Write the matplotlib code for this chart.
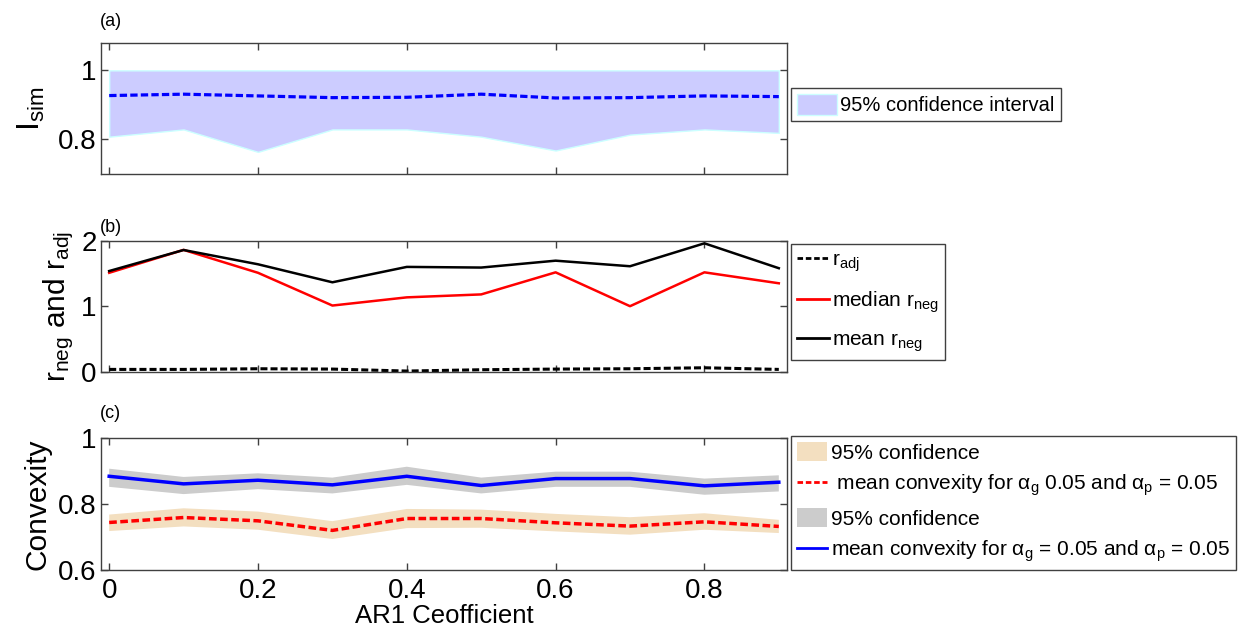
import matplotlib
matplotlib.use("Agg")
import matplotlib.pyplot as plt
from matplotlib.patches import Patch
from matplotlib.lines import Line2D

plt.rcParams['font.family'] = ['Liberation Sans', 'DejaVu Sans']
plt.rcParams['mathtext.fontset'] = 'custom'
plt.rcParams['mathtext.rm'] = 'Liberation Sans'
plt.rcParams['mathtext.it'] = 'Liberation Sans'
plt.rcParams['mathtext.default'] = 'regular'

# ---- data ----
ar1 = [0.0, 0.1, 0.2, 0.3, 0.4, 0.5, 0.6, 0.7, 0.8, 0.9]

# panel (a)
isim_mean = [0.927, 0.931, 0.926, 0.921, 0.922, 0.931, 0.920, 0.921, 0.926, 0.924]
isim_upper = [1.0, 1.0, 1.0, 1.0, 1.0, 1.0, 1.0, 1.0, 1.0, 1.0]
isim_lower = [0.808, 0.829, 0.764, 0.829, 0.829, 0.808, 0.768, 0.814, 0.829, 0.819]

# panel (b)
r_adj = [0.035, 0.035, 0.045, 0.04, 0.01, 0.03, 0.04, 0.045, 0.06, 0.035]
median_rneg = [1.51, 1.86, 1.51, 1.01, 1.135, 1.18, 1.517, 1.0, 1.517, 1.35]
mean_rneg = [1.537, 1.858, 1.64, 1.365, 1.60, 1.59, 1.695, 1.61, 1.96, 1.58]

# panel (c)
conv_red = [0.744, 0.759, 0.749, 0.720, 0.756, 0.756, 0.743, 0.733, 0.746, 0.732]
tan_upper = [0.768, 0.787, 0.777, 0.748, 0.785, 0.783, 0.770, 0.760, 0.772, 0.752]
tan_lower = [0.718, 0.732, 0.722, 0.694, 0.727, 0.728, 0.717, 0.707, 0.722, 0.712]
conv_blue = [0.884, 0.861, 0.872, 0.858, 0.884, 0.856, 0.877, 0.877, 0.855, 0.866]
gray_upper = [0.907, 0.882, 0.893, 0.880, 0.913, 0.880, 0.898, 0.898, 0.877, 0.887]
gray_lower = [0.852, 0.830, 0.845, 0.832, 0.858, 0.832, 0.852, 0.852, 0.828, 0.838]

xticks = [0, 0.2, 0.4, 0.6, 0.8]
xticklabels = ['0', '0.2', '0.4', '0.6', '0.8']

W, H = 1244, 632
fig = plt.figure(figsize=(W / 100, H / 100), dpi=100)

def ax_at(x0, y0, x1, y1):
    return fig.add_axes([x0 / W, 1 - y1 / H, (x1 - x0) / W, (y1 - y0) / H])

spine_c = '#404040'
TICK = 20
YLAB = 21.5
LEG = 14.5

def style(ax):
    for s in ax.spines.values():
        s.set_color(spine_c)
        s.set_linewidth(1.0)
    ax.tick_params(direction='in', top=True, right=True, length=5,
                   width=1.0, color=spine_c, labelsize=TICK, pad=3)
    ax.tick_params(axis='x', pad=6)
    ax.set_xlim(-0.011, 0.911)
    ax.set_xticks(xticks)

legkw = dict(loc='upper left', fontsize=LEG, frameon=True, fancybox=False,
             edgecolor='#404040', framealpha=1, borderpad=0.3,
             handletextpad=0.15, borderaxespad=0, labelspacing=0.35)

# ---- (a) ----
axa = ax_at(101, 42.7, 787, 174)
style(axa)
axa.fill_between(ar1, isim_lower, isim_upper, facecolor='#ccccff',
                 edgecolor='#ccffff', linewidth=1)
axa.plot(ar1, isim_mean, color='#0000ff', linestyle='--', linewidth=2.3,
         dashes=(2.3, 1.0))
axa.set_ylim(0.7, 1.08)
axa.set_yticks([0.8, 1.0])
axa.set_yticklabels(['0.8', '1'])
axa.set_xticklabels([])
axa.set_ylabel('I$_{sim}$', fontsize=YLAB + 1.5, labelpad=8)
fig.text(100 / W, 1 - 21 / H, '(a)', fontsize=13, va='center', ha='left')
fig.legend(handles=[Patch(facecolor='#ccccff', edgecolor='#ccffff')],
           labels=['95% confidence interval'],
           bbox_to_anchor=(791 / W, 1 - 88 / H), handlelength=2.0,
           handleheight=1.2, **legkw)

# ---- (b) ----
axb = ax_at(101, 240.7, 787, 371.7)
style(axb)
axb.plot(ar1, r_adj, color='black', linestyle='--', linewidth=2.2,
         dashes=(2.3, 1.0))
axb.plot(ar1, median_rneg, color='#ff0000', linewidth=1.8)
axb.plot(ar1, mean_rneg, color='black', linewidth=1.8)
axb.set_ylim(0, 2)
axb.set_yticks([0, 1, 2])
axb.set_yticklabels(['0', '1', '2'])
axb.set_xticklabels([])
axb.set_ylabel('r$_{neg}$ and r$_{adj}$', fontsize=YLAB, labelpad=4)
fig.text(100 / W, 1 - 227 / H, '(b)', fontsize=13, va='center', ha='left')
fig.legend(handles=[Line2D([], [], color='black', linestyle='--', linewidth=2, dashes=(2, 1)),
                    Line2D([], [], color='#ff0000', linewidth=2),
                    Line2D([], [], color='black', linewidth=2)],
           labels=['r$_{adj}$', 'median r$_{neg}$', 'mean r$_{neg}$'],
           bbox_to_anchor=(791 / W, 1 - 244 / H), handlelength=1.5,
           **dict(legkw, fontsize=LEG + 0.5, labelspacing=0.75))

# ---- (c) ----
axc = ax_at(101, 438, 787, 570)
style(axc)
axc.fill_between(ar1, tan_lower, tan_upper, facecolor='#f3dfc0', edgecolor='none')
axc.fill_between(ar1, gray_lower, gray_upper, facecolor='#cccccc', edgecolor='none')
axc.plot(ar1, conv_red, color='#ff0000', linestyle='--', linewidth=2.5,
         dashes=(2.2, 1.0))
axc.plot(ar1, conv_blue, color='#0000ff', linewidth=2.5)
axc.set_ylim(0.6, 1.0)
axc.set_yticks([0.6, 0.8, 1.0])
axc.set_yticklabels(['0.6', '0.8', '1'])
axc.set_xticklabels(xticklabels)
axc.set_xlabel('AR1 Ceofficient', fontsize=18.5, labelpad=0)
axc.set_ylabel('Convexity', fontsize=YLAB, labelpad=5)
fig.text(100 / W, 1 - 414 / H, '(c)', fontsize=13, va='center', ha='left')
fig.legend(handles=[Patch(facecolor='#f3dfc0', edgecolor='none'),
                    Line2D([], [], color='#ff0000', linestyle='--', linewidth=2, dashes=(2, 1)),
                    Patch(facecolor='#cccccc', edgecolor='none'),
                    Line2D([], [], color='#0000ff', linewidth=2)],
           labels=['95% confidence',
                   r' mean convexity for $\alpha_{g}$ 0.05 and $\alpha_{p}$ = 0.05',
                   '95% confidence',
                   r'mean convexity for $\alpha_{g}$ = 0.05 and $\alpha_{p}$ = 0.05'],
           bbox_to_anchor=(791 / W, 1 - 436 / H), handlelength=1.45,
           handleheight=1.0, **dict(legkw, fontsize=15, labelspacing=0.48))

fig.savefig('out.png', dpi=100)
